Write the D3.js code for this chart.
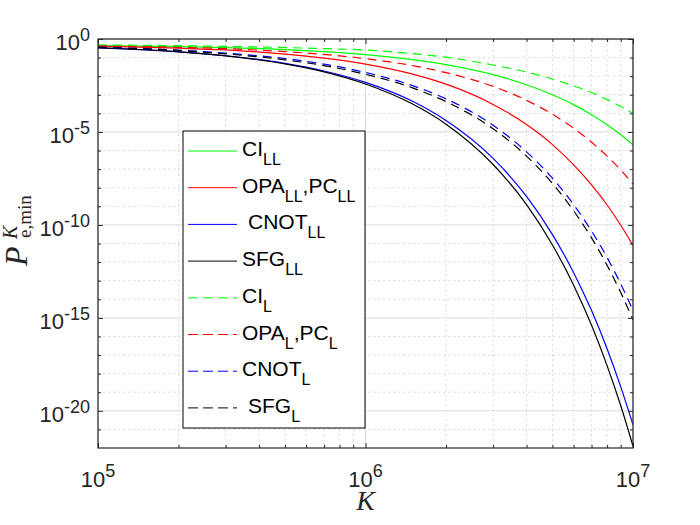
<!DOCTYPE html>
<html>
<head>
<meta charset="utf-8">
<script src="https://cdn.jsdelivr.net/npm/d3@7"></script>
<style>
html, body { margin: 0; background: #fff; overflow: hidden; }
svg { display: block; font-family: Arial, "Liberation Sans", Helvetica, sans-serif; }
</style>
</head>
<body>
<div id="chart"></div>
<script>
const width = 700;
const height = 525;
const margin = {top: 39, right: 67, bottom: 77, left: 98};

// K sample points and log10(P)
const kVals  = [1e5, 2e5, 3e5, 5e5, 7e5, 1e6, 1.5e6, 2e6, 3e6, 4e6, 5e6, 6e6, 7e6, 8e6, 9e6, 1e7];
const ciLL   = [-0.36, -0.41, -0.46, -0.57, -0.68, -0.84, -1.11, -1.38, -1.92, -2.46, -3.00, -3.53, -4.07, -4.61, -5.15, -5.69];
const opaLL  = [-0.38, -0.49, -0.59, -0.81, -1.03, -1.35, -1.89, -2.43, -3.52, -4.60, -5.68, -6.77, -7.85, -8.93, -10.02, -11.10];
const cnotLL = [-0.48, -0.69, -0.90, -1.31, -1.72, -2.33, -3.35, -4.38, -6.42, -8.47, -10.52, -12.57, -14.61, -16.66, -18.71, -20.75];
const sfgLL  = [-0.47, -0.69, -0.91, -1.34, -1.77, -2.42, -3.50, -4.58, -6.75, -8.91, -11.08, -13.24, -15.40, -17.57, -19.73, -21.90];
const ciL    = [-0.32, -0.36, -0.40, -0.46, -0.52, -0.59, -0.79, -0.98, -1.40, -1.78, -2.15, -2.52, -2.88, -3.26, -3.63, -4.00];
const opaL   = [-0.38, -0.45, -0.52, -0.68, -0.83, -1.06, -1.43, -1.81, -2.55, -3.30, -4.05, -4.80, -5.55, -6.30, -7.05, -7.80];
const cnotL  = [-0.44, -0.60, -0.76, -1.05, -1.35, -1.80, -2.51, -3.22, -4.64, -6.07, -7.49, -8.91, -10.33, -11.75, -13.18, -14.60];
const sfgL   = [-0.45, -0.62, -0.80, -1.12, -1.43, -1.90, -2.63, -3.37, -4.83, -6.30, -7.77, -9.24, -10.70, -12.17, -13.64, -15.10];

const xMajor = [1e5, 1e6, 1e7];
const xExp = ['5', '6', '7'];
const yMajor = [1, 1e-5, 1e-10, 1e-15, 1e-20];
const yExp = ['0', '-5', '-10', '-15', '-20'];

// legend texts: [text, isSubscript]
const legendLabels = [
    [['CI'], ['LL', 1]],
    [['OPA'], ['LL', 1], [',PC'], ['LL', 1]],
    [['CNOT'], ['LL', 1]],
    [['SFG'], ['LL', 1]],
    [['CI'], ['L', 1]],
    [['OPA'], ['L', 1], [',PC'], ['L', 1]],
    [['CNOT'], ['L', 1]],
    [['SFG'], ['L', 1]]
];
const legendIndent = [0, 0, 6, 0, 0, 0, 0, 6];

const series = [
    {vals: ciLL,   color: '#00ff00', dash: null},
    {vals: opaLL,  color: '#ff0000', dash: null},
    {vals: cnotLL, color: '#0000ff', dash: null},
    {vals: sfgLL,  color: '#000000', dash: null},
    {vals: ciL,    color: '#00ff00', dash: '9,6'},
    {vals: opaL,   color: '#ff0000', dash: '9,6'},
    {vals: cnotL,  color: '#0000ff', dash: '9,6'},
    {vals: sfgL,   color: '#000000', dash: '9,6'}
];

const innerWidth = width - margin.left - margin.right;
const innerHeight = height - margin.top - margin.bottom;
const axisColor = '#262626';

const svg = d3.select('#chart').append('svg')
    .attr('width', width)
    .attr('height', height);

const xScale = d3.scaleLog().domain([1e5, 1e7]).range([0, innerWidth]);
const yScale = d3.scaleLog().domain([1e-22, 1]).range([innerHeight, 0]);

const g = svg.append('g').attr('transform', `translate(${margin.left},${margin.top})`);

// minor positions
const xMinor = [];
[1e5, 1e6].forEach(b => { for (let m = 2; m <= 9; m++) xMinor.push(m * b); });
const yMinor = d3.range(-21, 0).filter(e => e % 5 !== 0).map(e => Math.pow(10, e));

// grid
g.append('g').selectAll('line').data(xMinor).join('line')
    .attr('x1', d => xScale(d)).attr('x2', d => xScale(d))
    .attr('y1', 0).attr('y2', innerHeight)
    .attr('stroke', '#d6d6d6').attr('stroke-width', 0.8).attr('stroke-dasharray', '2.5,2.5');
g.append('g').selectAll('line').data(yMinor).join('line')
    .attr('x1', 0).attr('x2', innerWidth)
    .attr('y1', d => yScale(d)).attr('y2', d => yScale(d))
    .attr('stroke', '#d6d6d6').attr('stroke-width', 0.8).attr('stroke-dasharray', '2.5,2.5');
g.append('g').selectAll('line').data(xMajor).join('line')
    .attr('x1', d => xScale(d)).attr('x2', d => xScale(d))
    .attr('y1', 0).attr('y2', innerHeight)
    .attr('stroke', '#dcdcdc').attr('stroke-width', 1);
g.append('g').selectAll('line').data(yMajor).join('line')
    .attr('x1', 0).attr('x2', innerWidth)
    .attr('y1', d => yScale(d)).attr('y2', d => yScale(d))
    .attr('stroke', '#dcdcdc').attr('stroke-width', 1);

// curves
svg.append('defs').append('clipPath').attr('id', 'plot-clip')
    .append('rect').attr('width', innerWidth).attr('height', innerHeight);

const line = d3.line()
    .x(d => xScale(d[0]))
    .y(d => yScale(Math.pow(10, d[1])))
    .curve(d3.curveMonotoneX);

const curves = g.append('g').attr('clip-path', 'url(#plot-clip)');
series.forEach(s => {
    curves.append('path')
        .datum(kVals.map((k, i) => [k, s.vals[i]]))
        .attr('d', line)
        .attr('fill', 'none')
        .attr('stroke', s.color)
        .attr('stroke-width', 1.2)
        .attr('stroke-dasharray', s.dash);
});

// axes (ticks point inward)
function styleAxis(sel) {
    sel.select('.domain').remove();
    sel.selectAll('line').attr('stroke', axisColor);
}
g.append('g').attr('transform', `translate(0,${innerHeight})`)
    .call(d3.axisBottom(xScale).tickValues(xMajor).tickSizeInner(-5).tickSizeOuter(0).tickFormat('')).call(styleAxis);
g.append('g').attr('transform', `translate(0,${innerHeight})`)
    .call(d3.axisBottom(xScale).tickValues(xMinor).tickSizeInner(-3).tickSizeOuter(0).tickFormat('')).call(styleAxis);
g.append('g')
    .call(d3.axisTop(xScale).tickValues(xMajor).tickSizeInner(-5).tickSizeOuter(0).tickFormat('')).call(styleAxis);
g.append('g')
    .call(d3.axisTop(xScale).tickValues(xMinor).tickSizeInner(-3).tickSizeOuter(0).tickFormat('')).call(styleAxis);
g.append('g')
    .call(d3.axisLeft(yScale).tickValues(yMajor).tickSizeInner(-5).tickSizeOuter(0).tickFormat('')).call(styleAxis);
g.append('g')
    .call(d3.axisLeft(yScale).tickValues(yMinor).tickSizeInner(-3).tickSizeOuter(0).tickFormat('')).call(styleAxis);
g.append('g').attr('transform', `translate(${innerWidth},0)`)
    .call(d3.axisRight(yScale).tickValues(yMajor).tickSizeInner(-5).tickSizeOuter(0).tickFormat('')).call(styleAxis);
g.append('g').attr('transform', `translate(${innerWidth},0)`)
    .call(d3.axisRight(yScale).tickValues(yMinor).tickSizeInner(-3).tickSizeOuter(0).tickFormat('')).call(styleAxis);

g.append('rect')
    .attr('width', innerWidth).attr('height', innerHeight)
    .attr('fill', 'none').attr('stroke', axisColor).attr('stroke-width', 1.2);

// tick labels: base "10" and exponent as separate texts
const yLabG = g.append('g').attr('fill', axisColor);
yMajor.forEach((v, i) => {
    const ty = yScale(v) + 11;
    const ex = yLabG.append('text')
        .attr('x', -8).attr('y', ty - 9)
        .attr('text-anchor', 'end').attr('font-size', 18)
        .text(yExp[i]);
    const w = ex.node().getComputedTextLength();
    yLabG.append('text')
        .attr('x', -8 - w).attr('y', ty)
        .attr('text-anchor', 'end').attr('font-size', 22)
        .text('10');
});

const xLabG = g.append('g').attr('fill', axisColor);
xMajor.forEach((v, i) => {
    const ty = innerHeight + 39;
    const base = xLabG.append('text')
        .attr('y', ty).attr('font-size', 22).text('10');
    const ex = xLabG.append('text')
        .attr('y', ty - 10).attr('font-size', 18).text(xExp[i]);
    const wb = base.node().getComputedTextLength();
    const we = ex.node().getComputedTextLength();
    const x0 = xScale(v) - (wb + we) / 2;
    base.attr('x', x0);
    ex.attr('x', x0 + wb);
});

// axis titles
svg.append('text')
    .attr('x', margin.left + innerWidth / 2)
    .attr('y', 510)
    .attr('text-anchor', 'middle')
    .attr('font-family', '"Liberation Serif", "DejaVu Serif", serif')
    .attr('font-style', 'italic')
    .attr('font-size', 28)
    .attr('fill', axisColor)
    .text('K');

const yTitle = svg.append('g')
    .attr('transform', 'translate(27,266) rotate(-90)')
    .attr('font-family', '"Liberation Serif", "DejaVu Serif", serif')
    .attr('fill', axisColor);
yTitle.append('text').attr('x', 0).attr('y', 0)
    .attr('font-style', 'italic').attr('font-size', 32).text('P');
yTitle.append('text').attr('x', 27).attr('y', -10)
    .attr('font-style', 'italic').attr('font-size', 20).text('K');
yTitle.append('text').attr('x', 28).attr('y', 4)
    .attr('font-size', 19).text('e,min');

// legend
const legend = svg.append('g');
legend.append('rect')
    .attr('x', 183).attr('y', 131)
    .attr('width', 182).attr('height', 297)
    .attr('fill', '#fff').attr('stroke', '#000').attr('stroke-width', 1);

series.forEach((s, i) => {
    const rowY = 151 + i * 36.7;
    legend.append('line')
        .attr('x1', 188).attr('x2', 237)
        .attr('y1', rowY).attr('y2', rowY)
        .attr('stroke', s.color).attr('stroke-width', 1)
        .attr('stroke-dasharray', s.dash ? '10,5' : null);
    let cx = 242 + legendIndent[i];
    legendLabels[i].forEach(part => {
        const sub = !!part[1];
        const t = legend.append('text')
            .attr('x', cx)
            .attr('y', rowY + 5 + (sub ? 9 : 0))
            .attr('font-size', sub ? 16 : 21)
            .attr('fill', '#000')
            .text(part[0]);
        cx += t.node().getComputedTextLength();
    });
});
</script>
</body>
</html>
